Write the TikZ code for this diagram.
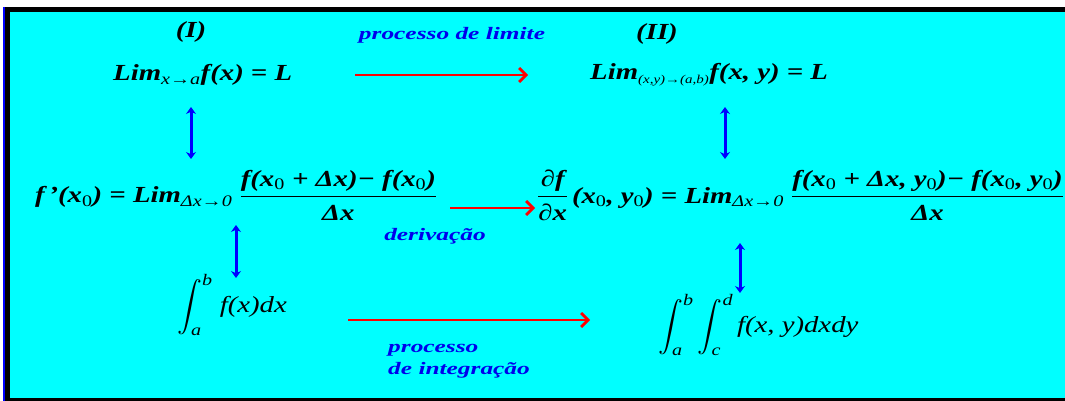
\documentclass[tikz,border=0pt]{standalone}
\usepackage{amsmath}
\usepackage{fontspec}
\setmainfont[FakeStretch=1.25]{Liberation Serif}
\newfontfamily\lblfont[FakeStretch=1.45]{Liberation Serif}
\usetikzlibrary{arrows.meta}
\definecolor{bgcyan}{RGB}{0,255,255}
\definecolor{lblblue}{RGB}{0,0,235}
\newcommand\lo[1]{\textsubscript{\normalfont\itshape #1}}
\newcommand\lsm[1]{\textsubscript{\normalfont\itshape\fontsize{12}{12}\selectfont #1}}
\newcommand\lz{\textsubscript{\normalfont 0}}
\tikzset{
  eq/.style={font=\fontsize{23}{26}\selectfont\bfseries\itshape, inner sep=0pt},
  inteq/.style={font=\fontsize{23}{26}\selectfont\mdseries\itshape, inner sep=0pt},
  lbl/.style={font=\lblfont\fontsize{17.5}{22}\selectfont\bfseries\itshape, text=lblblue, inner sep=0pt},
  redarr/.style={draw=red, line width=2.8pt, -{Straight Barb[length=7pt,width=14pt,line width=2.8pt]}},
  bluearr/.style={draw=blue, line width=3pt, {Stealth[length=7pt,width=10pt]}-{Stealth[length=7pt,width=10pt]}}
}
\begin{document}
\begin{tikzpicture}[x=1pt,y=-1pt]
\useasboundingbox (0,0) rectangle (1065,401);
\fill[white] (0,0) rectangle (1065,401);
\fill[bgcyan] (10,12) rectangle (1065,398);
\fill[black] (5,7) rectangle (1065,12);
\fill[black] (5,7) rectangle (10,401);
\fill[black] (5,398) rectangle (1065,401);
\fill[blue] (3,7) rectangle (5,401);

\node[eq] (t1) at (191,32) {(I)};
\node[eq] (t2) at (657,34) {(II)};
\node[lbl] (pl) at (452,35) {processo de limite};
\node[eq, anchor=west] (lim1) at (113,75) {Lim\lo{x→a}f(x) = L};
\node[eq, anchor=west] (lim2) at (590,75) {Lim\lsm{(x,y)→(a,b)}f(x, y) = L};

\node[eq, anchor=west] (der1) at (35,195) {f\,'(x\lz) = Lim\lo{Δx→0} $\dfrac{\text{f(x\lz\ + Δx)− f(x\lz)}}{\text{Δx}}$};
\node[eq, anchor=west] (der2) at (537,195) {$\dfrac{\text{∂f}}{\text{∂x}}$\,(x\lz, y\lz) = Lim\lo{Δx→0} $\dfrac{\text{f(x\lz\ + Δx, y\lz)− f(x\lz, y\lz)}}{\text{Δx}}$};
\node[lbl] (dv) at (435,236) {derivação};

\node[inteq, anchor=west] (int1) at (177,305) {$\displaystyle\int_{\text{a}}^{\text{b}}$ f(x)dx};
\node[inteq, anchor=west] (int2) at (658,325) {$\displaystyle\int_{\text{a}}^{\text{b}}\int_{\text{c}}^{\text{d}}$\,f(x, y)dxdy};
\node[lbl, align=left, anchor=west] (pi) at (388,361) {processo\\ de integração};

\coordinate (r1a) at (355,75); \coordinate (r1b) at (528,75);
\coordinate (r2a) at (450,208); \coordinate (r2b) at (535,208);
\coordinate (r3a) at (348,320); \coordinate (r3b) at (590,320);
\draw[redarr] (r1a) -- (r1b);
\draw[redarr] (r2a) -- (r2b);
\draw[redarr] (r3a) -- (r3b);

\coordinate (b1a) at (191,107); \coordinate (b1b) at (191,159);
\coordinate (b2a) at (725,107); \coordinate (b2b) at (725,159);
\coordinate (b3a) at (236,225); \coordinate (b3b) at (236,278);
\coordinate (b4a) at (740,243); \coordinate (b4b) at (740,293);
\draw[bluearr] (b1a) -- (b1b);
\draw[bluearr] (b2a) -- (b2b);
\draw[bluearr] (b3a) -- (b3b);
\draw[bluearr] (b4a) -- (b4b);
\end{tikzpicture}
\end{document}
